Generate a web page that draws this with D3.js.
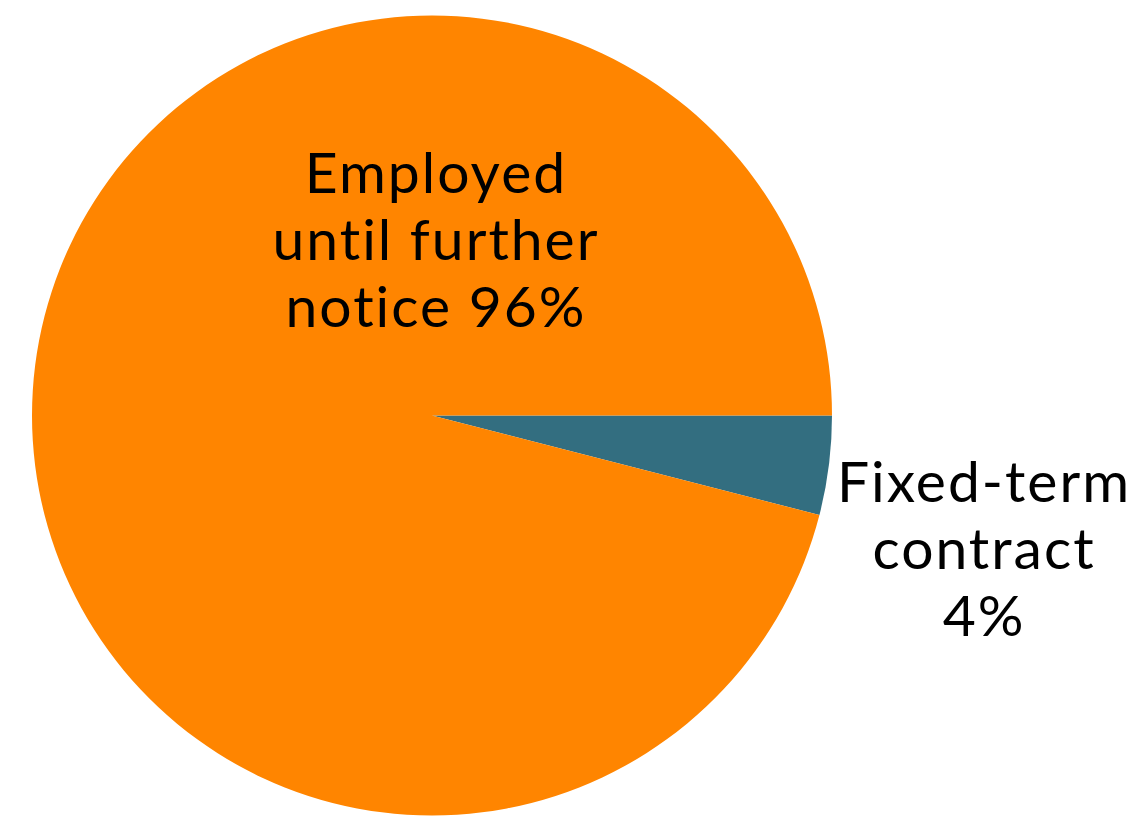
<!DOCTYPE html>
<html>
<head>
<meta charset="utf-8">
<script src="https://cdn.jsdelivr.net/npm/d3@7"></script>
<style>
  html, body { margin: 0; padding: 0; background: #ffffff; }
  svg { display: block; }
  text { font-family: "Lato", "Open Sans", sans-serif; fill: #000; }
</style>
</head>
<body>
<svg id="chart" width="1134" height="816"></svg>
<script>
// Employment type shares (percent)
const categories = ["Fixed-term contract", "Employed until further notice"];
const values = [4, 96];
const colors = ["#336e80", "#ff8500"];
const labelLines = [["Fixed-term", "contract", "4%"], ["Employed", "until further", "notice 96%"]];

const width = 1134, height = 816;
const cx = 432, cy = 415.5, radius = 400;

const svg = d3.select("#chart");
const g = svg.append("g").attr("transform", `translate(${cx},${cy})`);

// Slices start at 3 o'clock and run clockwise
const pie = d3.pie()
  .sort(null)
  .value(d => d.value)
  .startAngle(Math.PI / 2)
  .endAngle(Math.PI / 2 + 2 * Math.PI);

const data = categories.map((c, i) => ({ name: c, value: values[i], color: colors[i], lines: labelLines[i] }));
const arcs = pie(data);

const arc = d3.arc().innerRadius(0).outerRadius(radius);

g.selectAll("path.slice")
  .data(arcs)
  .join("path")
  .attr("class", "slice")
  .attr("d", arc)
  .attr("fill", d => d.data.color);

// Label anchors: small slice labelled outside the rim, large slice inside
const labelPos = [
  { x: 984 - cx, y: 502 - cy },
  { x: 436 - cx, y: 193 - cy }
];
const fontSize = 57, lineH = 67;

arcs.forEach((a, i) => {
  const t = g.append("text")
    .attr("text-anchor", "middle")
    .attr("font-size", fontSize)
    .attr("letter-spacing", 2)
    .attr("x", labelPos[i].x)
    .attr("y", labelPos[i].y);
  a.data.lines.forEach((ln, j) => {
    t.append("tspan")
      .attr("x", labelPos[i].x)
      .attr("y", labelPos[i].y + j * lineH)
      .text(ln);
  });
});
</script>
</body>
</html>
